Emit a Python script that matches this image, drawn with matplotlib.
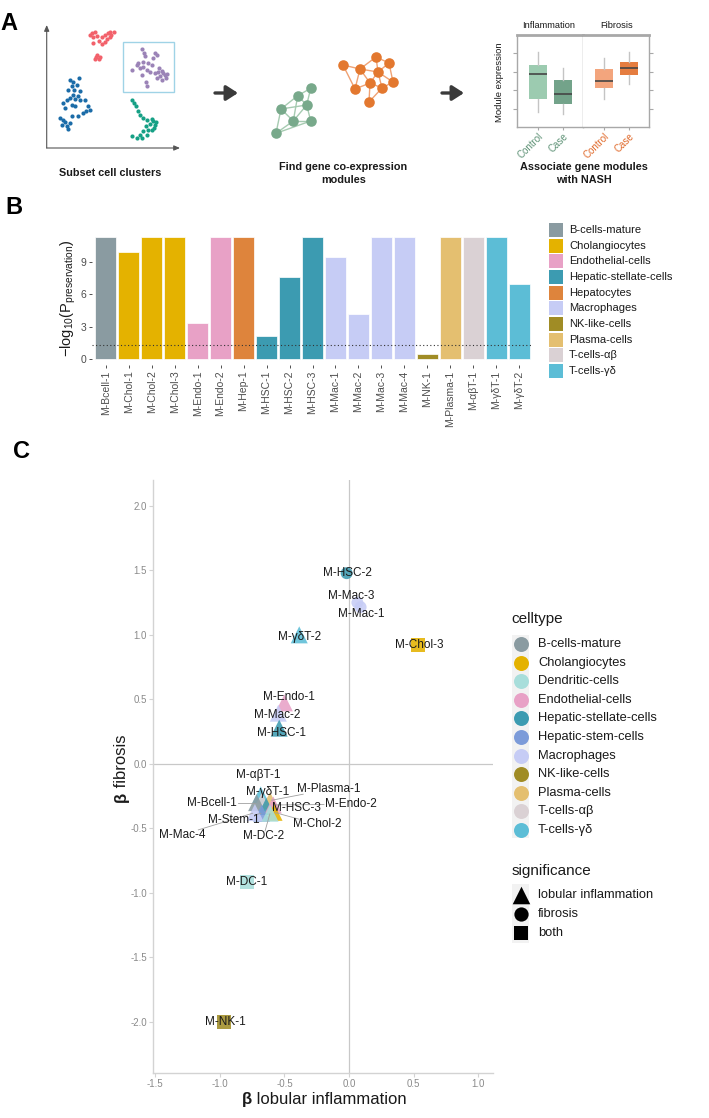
import matplotlib
matplotlib.use('Agg')
import matplotlib.pyplot as plt
from matplotlib.patches import Rectangle
import numpy as np

plt.rcParams['font.family'] = ['Liberation Sans', 'DejaVu Sans']
plt.rcParams['mathtext.fontset'] = 'custom'
plt.rcParams['mathtext.rm'] = 'Liberation Sans'
plt.rcParams['mathtext.it'] = 'Liberation Sans:italic'
plt.rcParams['mathtext.bf'] = 'Liberation Sans:bold'
plt.rcParams['axes.unicode_minus'] = False

# ---------------- colours ----------------
celltype_colors = {
    'B-cells-mature': '#8A9BA1',
    'Cholangiocytes': '#E4B200',
    'Dendritic-cells': '#A8DEDB',
    'Endothelial-cells': '#E8A1C6',
    'Hepatic-stellate-cells': '#3C9BB1',
    'Hepatic-stem-cells': '#7C9BD9',
    'Hepatocytes': '#DE843C',
    'Macrophages': '#C6CCF5',
    'NK-like-cells': '#A08C25',
    'Plasma-cells': '#E4BF70',
    'T-cells-αβ': '#DAD1D4',
    'T-cells-γδ': '#5CBDD6',
}

# ---------------- Panel A data (schematic) ----------------
red_pts = [(275,100),(285,96),(280,112),(292,108),(296,122),(279,130),(305,112),(316,104),
           (325,99),(334,104),(341,97),(322,116),(314,126),(306,131),(331,112),(287,172),
           (296,177),(284,177),(300,171),(292,165),(270,106),(330,96)]
purple_pts = [(425,148),(432,158),(435,168),(465,160),(470,165),(460,175),(410,195),(420,205),
              (395,210),(430,200),(440,210),(450,215),(455,195),(445,188),(478,205),(485,212),
              (490,218),(495,225),(480,228),(470,235),(485,240),(497,235),(465,220),(425,225),
              (438,245),(440,260),(415,190),(430,185),(500,222),(475,215)]
blue_pts = [(210,240),(220,245),(237,235),(230,255),(215,260),(205,270),(222,270),(218,285),
            (210,295),(225,298),(235,290),(240,275),(200,300),(195,325),(190,310),(215,315),
            (240,302),(255,300),(265,320),(258,335),(248,340),(270,330),(235,350),(180,355),
            (190,360),(185,375),(200,380),(205,388),(195,368),(210,370),(215,350),(225,320)]
green_pts = [(395,300),(402,310),(408,320),(415,335),(420,345),(430,355),(440,360),(455,358),
             (460,365),(465,375),(450,372),(438,380),(445,390),(430,395),(420,405),(410,415),
             (395,410),(425,415),(440,405),(455,392),(462,385),(468,368)]
cluster_colors = ['#F2616B', '#9B83B7', '#1B6CA8', '#16A085']
highlight_box = (370, 125, 523, 278)

green_nodes = [(310.7,88.3),(297.7,95.7),(306.7,105),(281,109),(293.3,121),(310.7,121),(276,133.3)]
green_edges = [(0,1),(0,2),(1,2),(1,3),(1,4),(2,4),(2,5),(3,4),(4,5),(3,6),(4,6),(5,6),(3,2)]
orange_nodes = [(343,65),(360,69),(355,89),(376,57),(389,63),(378,72),(370,83),(382,88),(393,82),(369,102)]
orange_edges = [(0,1),(0,2),(1,2),(1,3),(1,5),(3,4),(3,5),(4,5),(4,8),(5,6),(5,8),(6,7),(7,8),
                (6,2),(6,9),(7,9),(1,6),(5,7)]

box_groups = ['Control', 'Case']
box_inflam = [dict(whislo=0.82, q1=1.52, med=2.88, q3=3.37, whishi=4.08),
              dict(whislo=0.71, q1=1.25, med=1.79, q3=2.55, whishi=3.21)]
box_fib = [dict(whislo=1.52, q1=2.12, med=2.50, q3=3.15, whishi=3.75),
           dict(whislo=2.34, q1=2.83, med=3.21, q3=3.53, whishi=4.08)]
inflam_colors = ['#9CCBB0', '#73A38A']
fib_colors = ['#F3A57D', '#E57D40']

# ---------------- Panel B data ----------------
modules = ['M-Bcell-1','M-Chol-1','M-Chol-2','M-Chol-3','M-Endo-1','M-Endo-2','M-Hep-1',
           'M-HSC-1','M-HSC-2','M-HSC-3','M-Mac-1','M-Mac-2','M-Mac-3','M-Mac-4','M-NK-1',
           'M-Plasma-1','M-αβT-1','M-γδT-1','M-γδT-2']
module_celltype = ['B-cells-mature','Cholangiocytes','Cholangiocytes','Cholangiocytes',
                   'Endothelial-cells','Endothelial-cells','Hepatocytes',
                   'Hepatic-stellate-cells','Hepatic-stellate-cells','Hepatic-stellate-cells',
                   'Macrophages','Macrophages','Macrophages','Macrophages','NK-like-cells',
                   'Plasma-cells','T-cells-αβ','T-cells-γδ','T-cells-γδ']
neglog10p = [11.3, 9.9, 11.3, 11.3, 3.35, 11.3, 11.3, 2.15, 7.6, 11.3, 9.4, 4.2, 11.3, 11.3,
             0.43, 11.3, 11.3, 11.3, 6.9]
sig_threshold = 1.3
legendB_types = ['B-cells-mature','Cholangiocytes','Endothelial-cells','Hepatic-stellate-cells',
                 'Hepatocytes','Macrophages','NK-like-cells','Plasma-cells','T-cells-αβ','T-cells-γδ']

# ---------------- Panel C data ----------------
c_modules = ['M-HSC-2','M-Mac-3','M-Mac-1','M-γδT-2','M-Chol-3','M-Endo-1','M-Mac-2','M-HSC-1',
             'M-γδT-1','M-αβT-1','M-Bcell-1','M-Plasma-1','M-HSC-3','M-Endo-2','M-Chol-2',
             'M-Stem-1','M-Mac-4','M-DC-2','M-DC-1','M-NK-1']
c_celltype = ['Hepatic-stellate-cells','Macrophages','Macrophages','T-cells-γδ','Cholangiocytes',
              'Endothelial-cells','Macrophages','Hepatic-stellate-cells','T-cells-γδ','T-cells-αβ',
              'B-cells-mature','Plasma-cells','Hepatic-stellate-cells','Endothelial-cells',
              'Cholangiocytes','Hepatic-stem-cells','Macrophages','Dendritic-cells',
              'Dendritic-cells','NK-like-cells']
beta_inflam = [-0.018, 0.065, 0.09, -0.385, 0.536, -0.50, -0.547, -0.54, -0.683, -0.675, -0.715,
               -0.611, -0.64, -0.586, -0.58, -0.676, -0.728, -0.611, -0.792, -0.964]
beta_fib = [1.478, 1.25, 1.215, 1.0, 0.922, 0.473, 0.393, 0.277, -0.24, -0.29, -0.30, -0.284,
            -0.33, -0.318, -0.375, -0.382, -0.377, -0.382, -0.917, -2.0]
significance = ['fibrosis','fibrosis','fibrosis','lobular inflammation','both',
                'lobular inflammation','lobular inflammation','lobular inflammation',
                'lobular inflammation','lobular inflammation','lobular inflammation',
                'lobular inflammation','lobular inflammation','lobular inflammation',
                'lobular inflammation','lobular inflammation','lobular inflammation',
                'lobular inflammation','both','both']
label_x = [-0.01, 0.021, 0.098, -0.38, 0.546, -0.463, -0.553, -0.521, -0.633, -0.702, -1.063,
           -0.153, -0.405, 0.014, -0.244, -0.895, -1.293, -0.66, -0.792, -0.957]
label_y = [1.478, 1.305, 1.163, 0.987, 0.922, 0.517, 0.38, 0.243, -0.215, -0.085, -0.30,
           -0.196, -0.339, -0.313, -0.467, -0.434, -0.55, -0.558, -0.917, -1.998]
has_segment = [False]*10 + [True, True, False, True, True, True, True, True, False, False]
legendC_types = ['B-cells-mature','Cholangiocytes','Dendritic-cells','Endothelial-cells',
                 'Hepatic-stellate-cells','Hepatic-stem-cells','Macrophages','NK-like-cells',
                 'Plasma-cells','T-cells-αβ','T-cells-γδ']
sig_levels = ['lobular inflammation', 'fibrosis', 'both']
sig_markers = {'lobular inflammation': '^', 'fibrosis': 'o', 'both': 's'}
sig_sizes = {'lobular inflammation': 150, 'fibrosis': 74, 'both': 100}

# ---------------- figure ----------------
W, H = 709, 1118
fig = plt.figure(figsize=(W/100, H/100), dpi=100)

def axes_px(l, t, r, b, **kw):
    return fig.add_axes([l/W, 1-b/H, (r-l)/W, (b-t)/H], **kw)

TXT = '#1A1A1A'

# ===== Panel A: embedding =====
axE = axes_px(46.7, 25, 180, 148)
axE.set_xlim(140, 540); axE.set_ylim(445, 75); axE.axis('off')
for pts, col in zip([red_pts, purple_pts, blue_pts, green_pts], cluster_colors):
    xs, ys = zip(*pts)
    axE.scatter(xs, ys, s=9, color=col, lw=0)
bx0, by0, bx1, by1 = highlight_box
axE.add_patch(Rectangle((bx0, by0), bx1-bx0, by1-by0, fill=False, ec='#9FD3E6', lw=1.0))
axE.annotate('', xy=(0, 1.0), xytext=(0, 0), xycoords='axes fraction',
             arrowprops=dict(arrowstyle='-|>,head_width=0.15,head_length=0.35', color='#555555', lw=0.8, shrinkA=0, shrinkB=0))
axE.annotate('', xy=(1.0, 0), xytext=(0, 0), xycoords='axes fraction',
             arrowprops=dict(arrowstyle='-|>,head_width=0.15,head_length=0.35', color='#555555', lw=0.8, shrinkA=0, shrinkB=0))

# ===== Panel A: boxplots =====
axI = axes_px(517, 35, 583, 127)
axF = axes_px(583, 35, 649, 127)
for ax, stats, cols in [(axI, box_inflam, inflam_colors), (axF, box_fib, fib_colors)]:
    st = [dict(s, label=g) for s, g in zip(stats, box_groups)]
    b = ax.bxp(st, positions=[1, 2], widths=0.72, patch_artist=True, showfliers=False,
               showcaps=False,
               medianprops=dict(color='#454545', lw=1.2),
               whiskerprops=dict(color='#C4C4C4', lw=1.0),
               boxprops=dict(lw=0))
    for p, c in zip(b['boxes'], cols):
        p.set_facecolor(c); p.set_edgecolor('none')
    ax.set_xlim(0.18, 2.82); ax.set_ylim(0, 5)
    for sp in ax.spines.values():
        sp.set_color('#A8A8A8'); sp.set_linewidth(1.0)
    ax.spines['top'].set_linewidth(2.0)
    ax.set_xticks([1, 2])
    ax.tick_params(axis='x', length=2, color='#A8A8A8', pad=1)
axI.set_xticklabels(box_groups, rotation=45, ha='right', rotation_mode='anchor', fontsize=7)
axF.set_xticklabels(box_groups, rotation=45, ha='right', rotation_mode='anchor', fontsize=7)
for t in axI.get_xticklabels(): t.set_color('#5E9276')
for t in axF.get_xticklabels(): t.set_color('#E0692A')
axI.set_yticks([1, 2, 3, 4]); axI.set_yticklabels([])
axI.tick_params(axis='y', length=3, color='#A8A8A8')
axF.spines['left'].set_visible(False)
axF.yaxis.tick_right()
axF.set_yticks([1, 2, 3, 4]); axF.set_yticklabels([])
axF.tick_params(axis='y', length=3, color='#A8A8A8')

# ===== Panel B =====
axB = axes_px(92, 231, 533, 365)
xpos = np.arange(len(modules))
axB.bar(xpos, neglog10p, width=0.9, color=[celltype_colors[c] for c in module_celltype],
        edgecolor='white', lw=0.5, zorder=2)
axB.axhline(sig_threshold, color='#333333', lw=0.8, ls=(0, (1, 2.2)), zorder=3)
axB.set_xlim(-0.6, len(modules) - 0.4)
axB.set_ylim(-0.55, 11.85)
for sp in axB.spines.values(): sp.set_visible(False)
axB.set_yticks([0, 3, 6, 9])
axB.set_yticklabels(['0', '3', '6', '9'])
axB.tick_params(axis='y', length=2.5, width=0.6, color='#333333', labelcolor='#4D4D4D',
                labelsize=7.5, pad=1.5)
axB.set_xticks(xpos)
axB.set_xticklabels(modules, rotation=90, ha='center', va='top', fontsize=7.5, color='#4D4D4D')
axB.tick_params(axis='x', length=2.5, width=0.6, color='#333333', pad=1.5)

# ===== Panel C =====
axC = axes_px(153, 480, 493, 1073)
axC.set_xlim(-1.517, 1.115); axC.set_ylim(-2.395, 2.2)
axC.axhline(0, color='#C8C8C8', lw=0.9, zorder=1)
axC.axvline(0, color='#C8C8C8', lw=0.9, zorder=1)
for sp in ['top', 'right']: axC.spines[sp].set_visible(False)
for sp in ['left', 'bottom']:
    axC.spines[sp].set_color('#D3D3D3'); axC.spines[sp].set_linewidth(1.0)
axC.set_xticks([-1.5, -1.0, -0.5, 0.0, 0.5, 1.0])
axC.set_xticklabels([f'{v:.1f}' for v in [-1.5, -1.0, -0.5, 0.0, 0.5, 1.0]])
axC.set_yticks([-2.0, -1.5, -1.0, -0.5, 0.0, 0.5, 1.0, 1.5, 2.0])
axC.set_yticklabels([f'{v:.1f}' for v in [-2.0, -1.5, -1.0, -0.5, 0.0, 0.5, 1.0, 1.5, 2.0]])
axC.tick_params(length=3, color='#D3D3D3', labelcolor='#8A8A8A', labelsize=7, pad=1.5)

for lvl in sig_levels:
    idx = [i for i, s in enumerate(significance) if s == lvl]
    if not idx:
        continue
    axC.scatter([beta_inflam[i] for i in idx], [beta_fib[i] for i in idx],
                marker=sig_markers[lvl], s=sig_sizes[lvl],
                c=[celltype_colors[c_celltype[i]] for i in idx], lw=0, alpha=0.88, zorder=2)

texts = []
for i, name in enumerate(c_modules):
    t = axC.text(label_x[i], label_y[i], name, ha='center', va='center', fontsize=8.5,
                 color=TXT, zorder=5)
    texts.append(t)

# ===== overlay: texts, legends, networks =====
ov = fig.add_axes([0, 0, 1, 1], zorder=10)
ov.set_xlim(0, W); ov.set_ylim(H, 0); ov.axis('off'); ov.patch.set_visible(False)

for lab, (x, y) in zip(['A', 'B', 'C'], [(8.5, 23.5), (14, 207), (22, 452)]):
    ov.text(x, y, lab, fontsize=17, fontweight='bold', ha='center', va='center', color='black')

# networks
for nodes, edges, ncol, ecol in [(green_nodes, green_edges, '#78A98B', '#A6CBB1'),
                                 (orange_nodes, orange_edges, '#E3782F', '#F0A274')]:
    for a, b in edges:
        ov.plot([nodes[a][0], nodes[b][0]], [nodes[a][1], nodes[b][1]], color=ecol, lw=1.0, zorder=1)
    xs, ys = zip(*nodes)
    ov.scatter(xs, ys, s=58, color=ncol, lw=0, zorder=2)

# arrows
for x0, x1 in [(215, 238), (442, 464)]:
    ov.annotate('', xy=(x1, 93), xytext=(x0, 93),
                arrowprops=dict(arrowstyle='-|>,head_width=0.45,head_length=0.7', color='#3A3A3A',
                                lw=2.4, shrinkA=0, shrinkB=0, mutation_scale=10))

ov.text(110, 173, 'Subset cell clusters', fontsize=7.8, fontweight='bold', ha='center', va='center', color=TXT)
ov.text(343.5, 167, 'Find gene co-expression', fontsize=7.8, fontweight='bold', ha='center', va='center', color=TXT)
ov.text(343.5, 180, 'modules', fontsize=7.8, fontweight='bold', ha='center', va='center', color=TXT)
ov.text(583.5, 167, 'Associate gene modules', fontsize=7.8, fontweight='bold', ha='center', va='center', color=TXT)
ov.text(583.5, 180, 'with NASH', fontsize=7.8, fontweight='bold', ha='center', va='center', color=TXT)
ov.text(549, 25, 'Inflammation', fontsize=6.7, ha='center', va='center', color=TXT)
ov.text(616.7, 25, 'Fibrosis', fontsize=6.7, ha='center', va='center', color=TXT)
ov.text(500, 82, 'Module expression', fontsize=6.8, rotation=90, ha='center', va='center', color=TXT)

# Panel B y label and legend
ov.text(68, 298, r'$-\mathrm{log}_{10}(\mathrm{P}_{\mathrm{preservation}})$', fontsize=10.5, rotation=90,
        ha='center', va='center', color=TXT)
for i, ct in enumerate(legendB_types):
    yc = 230 + i*15.67
    ov.add_patch(Rectangle((549, yc-7), 14, 14, color=celltype_colors[ct], lw=0))
    ov.text(569, yc, ct, fontsize=8, ha='left', va='center', color=TXT)

# Panel C legend
ov.text(511.7, 619.3, 'celltype', fontsize=11, ha='left', va='center', color=TXT)
ov.add_patch(Rectangle((512, 635), 17, 203, color='#F2F2F2', lw=0, zorder=0))
for i, ct in enumerate(legendC_types):
    yc = 644 + i*18.6
    ov.scatter([520.5], [yc], s=116, color=celltype_colors[ct], lw=0, zorder=2)
    ov.text(538, yc, ct, fontsize=9.3, ha='left', va='center', color=TXT)
ov.text(511.7, 871, 'significance', fontsize=11, ha='left', va='center', color=TXT)
ov.add_patch(Rectangle((512, 884), 17, 59, color='#F2F2F2', lw=0, zorder=0))
for i, lvl in enumerate(sig_levels):
    yc = 895 + i*19
    ov.scatter([520.5], [yc], marker=sig_markers[lvl],
               s={'lobular inflammation': 160, 'fibrosis': 105, 'both': 95}[lvl],
               color='black', lw=0, zorder=2)
    ov.text(538, yc, lvl, fontsize=9.3, ha='left', va='center', color=TXT)

# Panel C axis titles: bold beta + regular text
fig.canvas.draw()
rend = fig.canvas.get_renderer()

def beta_title(x_or_y, base, rest, size, vertical=False):
    t1 = ov.text(0, 0, 'β', fontsize=size, fontweight='bold', color=TXT,
                 ha='left', va='baseline', rotation_mode='anchor')
    t2 = ov.text(0, 0, rest, fontsize=size, color=TXT,
                 ha='left', va='baseline', rotation_mode='anchor')
    w1 = t1.get_window_extent(rend).width
    w2 = t2.get_window_extent(rend).width
    tot = w1 + w2
    if not vertical:
        x0 = x_or_y - tot/2
        t1.set_position((x0, base)); t2.set_position((x0 + w1, base))
    else:
        y0 = x_or_y + tot/2
        t1.set_rotation(90); t2.set_rotation(90)
        t1.set_position((base, y0)); t2.set_position((base, y0 - w1))

beta_title(324, 1104, ' lobular inflammation', 12)
beta_title(768, 126, ' fibrosis', 12, vertical=True)

# ===== repel segments in panel C =====
fig.canvas.draw()
inv = axC.transData.inverted()
for i in range(len(c_modules)):
    if not has_segment[i]:
        continue
    bb = texts[i].get_window_extent(rend)
    px, py = axC.transData.transform((beta_inflam[i], beta_fib[i]))
    cx, cy = (bb.x0 + bb.x1)/2, (bb.y0 + bb.y1)/2
    dx, dy = px - cx, py - cy
    tx = (bb.width/2 + 1)/abs(dx) if dx != 0 else np.inf
    ty = (bb.height/2 - 1)/abs(dy) if dy != 0 else np.inf
    t = min(tx, ty)
    sx, sy = cx + dx*t, cy + dy*t
    ex, ey = cx + dx*0.97, cy + dy*0.97
    (sxd, syd), (exd, eyd) = inv.transform([(sx, sy), (ex, ey)])
    axC.plot([sxd, exd], [syd, eyd], color='#A0A0A0', lw=0.6, zorder=3)

fig.savefig('out.png', dpi=100)
